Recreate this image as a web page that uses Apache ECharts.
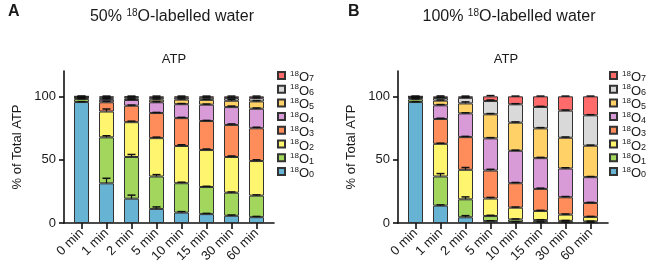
<!DOCTYPE html>
<html>
<head>
<meta charset="utf-8">
<script src="https://cdn.jsdelivr.net/npm/echarts@6/dist/echarts.min.js"></script>
<style>
html,body{margin:0;padding:0;background:#fff;}
#c{width:646px;height:271px;}
</style>
</head>
<body>
<div id="c"></div>
<script>
// ---- data ----
const categories = ['0 min', '1 min', '2 min', '5 min', '10 min', '15 min', '30 min', '60 min'];
const isotopes = ['18O0', '18O1', '18O2', '18O3', '18O4', '18O5', '18O6', '18O7'];
const colors = ['#67b3d4', '#a2d65c', '#fff56e', '#ff8d5b', '#d99bd7', '#ffd166', '#d9d9d9', '#ff6b6b'];
const yTicks = [0, 50, 100];

// Panel A: 50% 18O-labelled water (% of total ATP)
const a_O0 = [95.5, 31.3, 19.2, 11.1, 8.2, 7.0, 5.7, 4.6];
const a_O1 = [2.3, 36.3, 32.9, 25.6, 23.2, 21.4, 18.2, 17.0];
const a_O2 = [1.0, 20.4, 27.5, 30.3, 29.4, 29.2, 28.2, 27.3];
const a_O3 = [0.5, 7.3, 13.0, 19.8, 22.0, 22.9, 25.3, 25.9];
const a_O4 = [0.3, 2.0, 4.5, 8.5, 11.0, 12.9, 14.1, 15.4];
const a_O5 = [0.2, 0.9, 1.2, 2.1, 3.6, 3.8, 5.0, 5.8];
const a_O6 = [0.1, 0.9, 1.0, 1.4, 1.5, 1.7, 2.1, 2.5];
const a_O7 = [0.1, 0.9, 0.7, 1.2, 1.1, 1.1, 1.4, 1.5];
// Panel A error (upper SD)
const aErr_O0 = [0.3, 4.0, 2.8, 1.6, 0.8, 0.6, 0.6, 0.6];
const aErr_O1 = [0.3, 1.3, 2.0, 1.5, 0.8, 0.6, 0.6, 0.6];
const aErr_O2 = [0.2, 2.0, 0.8, 0.8, 1.0, 0.8, 0.8, 1.0];
const aErr_O3 = [0.2, 0.8, 0.5, 0.5, 0.6, 0.5, 0.8, 0.8];
const aErr_O4 = [0.1, 0.8, 0.5, 0.5, 0.5, 0.5, 0.8, 0.6];
const aErr_O5 = [0.1, 0.5, 0.4, 0.5, 0.5, 0.5, 1.0, 0.6];
const aErr_O6 = [0.1, 0.3, 0.3, 0.3, 0.3, 0.3, 0.3, 0.3];
const aErr_O7 = [0.0, 0.2, 0.2, 0.2, 0.2, 0.2, 0.2, 0.2];

// Panel B: 100% 18O-labelled water (% of total ATP)
const b_O0 = [95.5, 13.7, 4.5, 1.5, 0.8, 0.7, 0.5, 0.4];
const b_O1 = [2.2, 23.0, 14.2, 4.0, 2.0, 1.6, 1.2, 0.8];
const b_O2 = [1.0, 25.8, 23.3, 13.8, 9.3, 7.2, 4.9, 3.6];
const b_O3 = [0.5, 19.6, 25.8, 22.1, 19.3, 17.4, 13.7, 11.0];
const b_O4 = [0.3, 10.8, 18.7, 25.4, 25.6, 24.3, 22.7, 20.4];
const b_O5 = [0.2, 3.7, 7.9, 19.0, 22.2, 23.5, 24.3, 24.8];
const b_O6 = [0.2, 2.1, 4.4, 10.5, 14.5, 16.9, 21.4, 24.0];
const b_O7 = [0.1, 1.3, 1.2, 3.7, 6.3, 8.4, 11.3, 15.0];
// Panel B error (upper SD)
const bErr_O0 = [0.3, 0.6, 1.3, 0.3, 0.2, 0.2, 0.2, 0.2];
const bErr_O1 = [0.3, 2.3, 1.9, 0.6, 0.4, 0.3, 0.3, 0.3];
const bErr_O2 = [0.2, 0.5, 1.8, 0.9, 0.5, 0.5, 0.5, 0.4];
const bErr_O3 = [0.2, 0.6, 0.6, 1.0, 0.6, 0.6, 0.6, 0.5];
const bErr_O4 = [0.1, 0.6, 0.5, 0.6, 0.5, 0.6, 0.6, 0.5];
const bErr_O5 = [0.1, 0.5, 1.2, 0.6, 0.6, 0.6, 0.6, 0.5];
const bErr_O6 = [0.1, 0.6, 0.5, 0.8, 0.5, 0.5, 0.5, 0.5];
const bErr_O7 = [0.0, 0.3, 0.2, 0.6, 0.2, 0.2, 0.2, 0.2];

const panelA = [a_O0, a_O1, a_O2, a_O3, a_O4, a_O5, a_O6, a_O7];
const panelAErr = [aErr_O0, aErr_O1, aErr_O2, aErr_O3, aErr_O4, aErr_O5, aErr_O6, aErr_O7];
const panelB = [b_O0, b_O1, b_O2, b_O3, b_O4, b_O5, b_O6, b_O7];
const panelBErr = [bErr_O0, bErr_O1, bErr_O2, bErr_O3, bErr_O4, bErr_O5, bErr_O6, bErr_O7];

// ---- chart ----
const FONT = 'Liberation Sans, Arial, sans-serif';
const TXT = '#1a1a1a';
const catIdx = categories.map((c, i) => i);
const GRID_TOP = 71, GRID_H = 152, AXIS_W = 210, PAD = 0.7;
const CAT_W = AXIS_W / (categories.length - 1 + 2 * PAD);

// Frame grids (axis lines, ticks, labels) use a value x-axis padded by PAD categories;
// bar grids use a category axis aligned with the same positions.
function frameAxes(gi) {
  return {
    x: {
      type: 'value', gridIndex: gi, min: -PAD, max: categories.length - 1 + PAD,
      splitLine: { show: false },
      axisLine: { onZero: false, lineStyle: { color: '#111', width: 1.6 } },
      axisTick: { customValues: catIdx, length: 6, lineStyle: { color: '#111', width: 1.6 } },
      axisLabel: {
        customValues: catIdx, rotate: 45, margin: 8,
        formatter: v => categories[Math.round(v)],
        fontSize: 13, fontFamily: FONT, color: TXT
      }
    },
    y: {
      type: 'value', gridIndex: gi, min: 0, max: 120,
      splitLine: { show: false },
      axisLine: { show: true, onZero: false, lineStyle: { color: '#111', width: 1.6 } },
      axisTick: { show: true, customValues: yTicks, length: 5, lineStyle: { color: '#111', width: 1.6 } },
      axisLabel: { customValues: yTicks, margin: 8, fontSize: 13, fontFamily: FONT, color: TXT },
      name: '% of Total ATP', nameLocation: 'middle', nameGap: 40,
      nameTextStyle: { fontSize: 13, fontFamily: FONT, color: TXT }
    }
  };
}
function barAxes(gi) {
  return {
    x: { type: 'category', gridIndex: gi, data: categories, show: false },
    y: { type: 'value', gridIndex: gi, min: 0, max: 120, show: false, splitLine: { show: false } }
  };
}

function errRender(params, api) {
  const x = api.value(0), y0 = api.value(1), y1 = api.value(2);
  const p0 = api.coord([x, y0]);
  const p1 = api.coord([x, y1]);
  return {
    type: 'group',
    children: [
      { type: 'line', shape: { x1: p0[0], y1: p0[1], x2: p1[0], y2: p1[1] }, style: { stroke: '#111', lineWidth: 1.2 } },
      { type: 'line', shape: { x1: p1[0] - 4, y1: p1[1], x2: p1[0] + 4, y2: p1[1] }, style: { stroke: '#111', lineWidth: 1.5 } }
    ]
  };
}

function makeSeries(panel, errs, gi) {
  const out = [];
  panel.forEach((vals, k) => {
    out.push({
      type: 'bar', name: isotopes[k], xAxisIndex: gi, yAxisIndex: gi,
      stack: 'p' + gi, barWidth: 15,
      itemStyle: { color: colors[k], borderColor: '#333', borderWidth: 1 },
      data: vals,
      z: 2
    });
  });
  const errData = [];
  panel.forEach((vals, k) => {
    vals.forEach((v, i) => {
      let top = 0;
      for (let j = 0; j <= k; j++) top += panel[j][i];
      errData.push([i, top, top + errs[k][i]]);
    });
  });
  out.push({
    type: 'custom', name: 'err' + gi, xAxisIndex: gi, yAxisIndex: gi,
    renderItem: errRender, data: errData,
    dimensions: ['x', 'lo', 'hi'], encode: { x: 0, y: [1, 2] }, z: 5, silent: true
  });
  return out;
}

const fA = frameAxes(0), bA = barAxes(1), fB = frameAxes(2), bB = barAxes(3);

const legendRich = {
  sup: { fontSize: 8, lineHeight: 7, padding: [0, 0, 4, 0], fontFamily: FONT, color: TXT },
  o: { fontSize: 13, lineHeight: 16, padding: [4, 0, 0, 0], fontFamily: FONT, color: TXT },
  sub: { fontSize: 9, lineHeight: 4, verticalAlign: 'bottom', fontFamily: FONT, color: TXT }
};
function makeLegend(left) {
  return {
    orient: 'vertical', left: left, top: 67, padding: 0,
    itemWidth: 7, itemHeight: 7, itemGap: -3.3, icon: 'rect',
    selectedMode: false,
    data: isotopes.slice().reverse(),
    formatter: n => '{sup|18}{o|O}{sub|' + n.slice(3) + '}',
    textStyle: { rich: legendRich, fontFamily: FONT, color: TXT }
  };
}

const titleRich = {
  sup: { fontSize: 10, lineHeight: 10, verticalAlign: 'top', fontWeight: 'normal', fontFamily: FONT, color: TXT },
  t: { fontSize: 16, lineHeight: 18, fontWeight: 'normal', fontFamily: FONT, color: TXT }
};

const option = {
  animation: false,
  backgroundColor: '#fff',
  title: [
    { text: 'A', left: 3, top: -1, textStyle: { fontSize: 16, fontWeight: 'bold', fontFamily: FONT, color: TXT } },
    { text: 'B', left: 343, top: -1, textStyle: { fontSize: 16, fontWeight: 'bold', fontFamily: FONT, color: TXT } },
    { text: '{t|50% }{sup|18}{t|O-labelled water}', left: 167, textAlign: 'center', top: 3, textStyle: { fontWeight: 'normal', rich: titleRich } },
    { text: '{t|100% }{sup|18}{t|O-labelled water}', left: 504, textAlign: 'center', top: 3, textStyle: { fontWeight: 'normal', rich: titleRich } },
    { text: 'ATP', left: 169, textAlign: 'center', top: 48, textStyle: { fontSize: 13, fontWeight: 'normal', fontFamily: FONT, color: TXT } },
    { text: 'ATP', left: 501, textAlign: 'center', top: 48, textStyle: { fontSize: 13, fontWeight: 'normal', fontFamily: FONT, color: TXT } }
  ],
  legend: [makeLegend(277), makeLegend(609)],
  grid: [
    { left: 64, top: GRID_TOP, width: AXIS_W, height: GRID_H },
    { left: 64 + PAD * CAT_W - CAT_W / 2, top: GRID_TOP, width: CAT_W * categories.length, height: GRID_H },
    { left: 398, top: GRID_TOP, width: AXIS_W, height: GRID_H },
    { left: 398 + PAD * CAT_W - CAT_W / 2, top: GRID_TOP, width: CAT_W * categories.length, height: GRID_H }
  ],
  xAxis: [fA.x, bA.x, fB.x, bB.x],
  yAxis: [fA.y, bA.y, fB.y, bB.y],
  series: makeSeries(panelA, panelAErr, 1).concat(makeSeries(panelB, panelBErr, 3))
};

const chart = echarts.init(document.getElementById('c'), null, { renderer: 'canvas' });
chart.setOption(option);
</script>
</body>
</html>
